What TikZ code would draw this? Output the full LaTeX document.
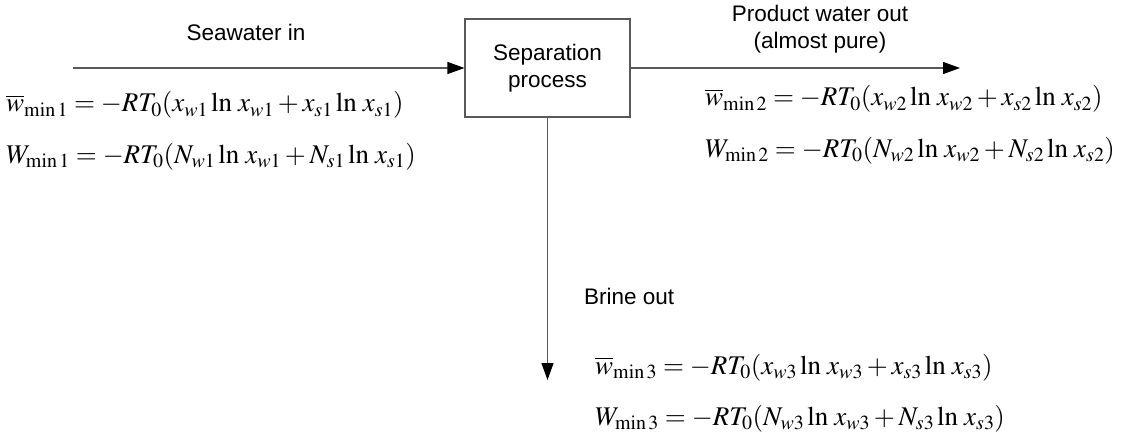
\documentclass[tikz,border=0pt]{standalone}
\usepackage{mathptmx}
\usepackage[no-math]{fontspec}
\setmainfont{Liberation Sans}
\usetikzlibrary{arrows.meta}

% minimum work of separation, per mole and total, for stream #1
\newcommand{\eqmolar}[1]{\overline{w}_{\mathrm{min}\,#1} = -RT_0(x_{w#1}\ln\,x_{w#1} + x_{s#1}\ln\,x_{s#1})}
\newcommand{\eqtotal}[1]{W_{\mathrm{min}\,#1} = -RT_0(N_{w#1}\ln\,x_{w#1} + N_{s#1}\ln\,x_{s#1})}

\tikzset{
  flow/.style={draw=black!65, line width=1.1pt,
    -{Triangle[length=17pt,width=12pt,color=black]}},
  lbl/.style={font=\fontsize{22.5}{27}\selectfont, inner sep=0pt},
  eqn/.style={font=\fontsize{27}{31}\selectfont, inner sep=0pt, anchor=base west},
  procbox/.style={draw=black!65, line width=1.1pt, minimum width=165pt,
    minimum height=98pt, align=center, inner sep=0pt,
    font=\fontsize{22.5}{27}\selectfont}
}

\begin{document}
\begin{tikzpicture}[x=1pt,y=-1pt]
\useasboundingbox (0,0) rectangle (1126,441);

% process block and streams
\node[procbox] (sep) at (547.5,68) {Separation\\process};
\coordinate (inlet) at (73,68);
\coordinate (product) at (960,68);
\coordinate (brine) at (547.5,380);
\draw[flow] (inlet) -- (sep.west);
\draw[flow] (sep.east) -- (product);
\draw[flow] (sep.south) -- (brine);

% stream labels
\node[lbl, anchor=base] (seain) at (246,41) {Seawater in};
\node[lbl, anchor=base, align=center] (prodlbl) at (820,49) {Product water out\\(almost pure)};
\node[lbl, anchor=base west] (brinelbl) at (584,304) {Brine out};

% minimum work for each stream
\node[eqn] (w1) at (6,112) {$\eqmolar{1}$};
\node[eqn] (W1) at (6,163) {$\eqtotal{1}$};
\node[eqn] (w2) at (705,106) {$\eqmolar{2}$};
\node[eqn] (W2) at (705,157) {$\eqtotal{2}$};
\node[eqn] (w3) at (595,374) {$\eqmolar{3}$};
\node[eqn] (W3) at (595,425) {$\eqtotal{3}$};
\end{tikzpicture}
\end{document}
